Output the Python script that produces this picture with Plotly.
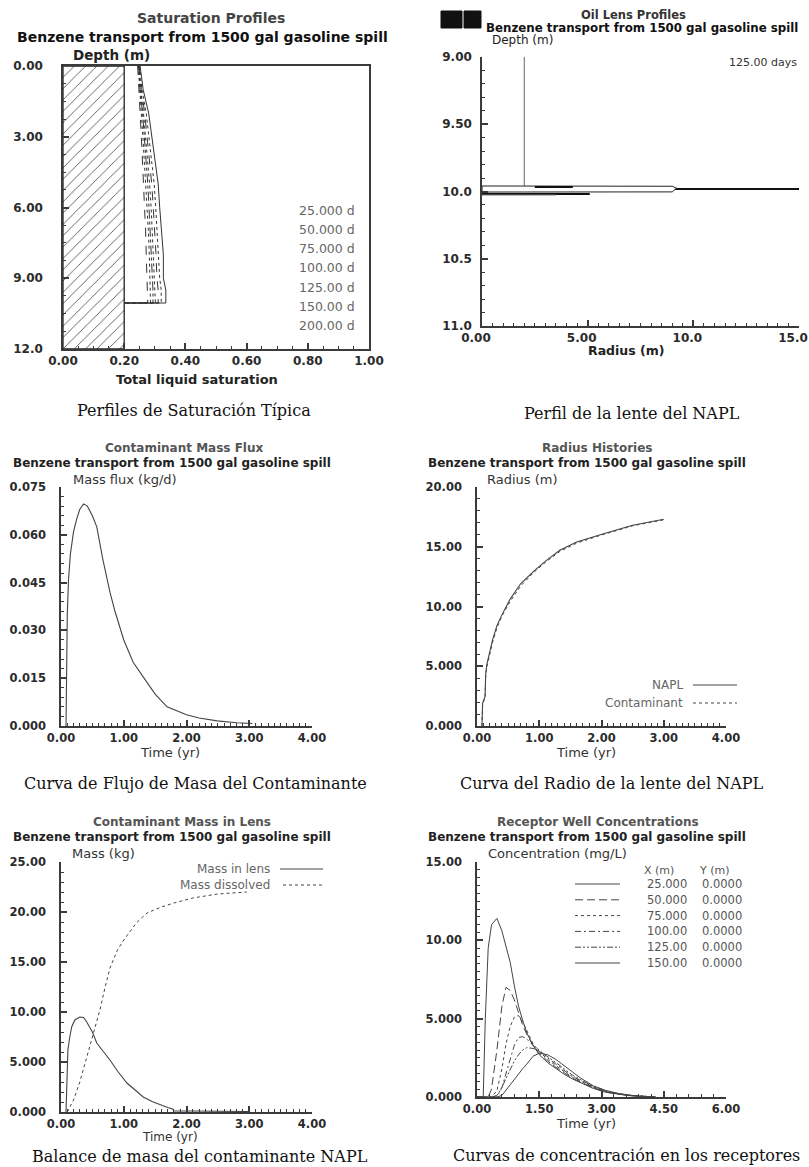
import plotly.graph_objects as go

W, H = 809, 1167


def fx(p):
    return p / W


def fy(p):
    return 1 - p / H


# ---------------- data ----------------
# Saturation profiles (depth in m, total liquid saturation)
sat_depth = [0, 1, 2, 3, 4, 5, 6, 7, 8, 9, 9.5, 10.05, 10.05]
sat_times = ["25.000 d", "50.000 d", "75.000 d", "100.00 d", "125.00 d", "150.00 d", "200.00 d"]
sat_25d = [0.252, 0.262, 0.280, 0.290, 0.300, 0.311, 0.316, 0.322, 0.328, 0.328, 0.336, 0.336, 0.20]
sat_50d = [0.250, 0.258, 0.272, 0.281, 0.290, 0.298, 0.303, 0.308, 0.313, 0.316, 0.321, 0.321, 0.20]
sat_75d = [0.249, 0.256, 0.267, 0.275, 0.283, 0.290, 0.295, 0.300, 0.304, 0.307, 0.311, 0.311, 0.20]
sat_100d = [0.248, 0.254, 0.263, 0.270, 0.277, 0.283, 0.288, 0.292, 0.296, 0.299, 0.302, 0.302, 0.20]
sat_125d = [0.247, 0.252, 0.260, 0.266, 0.272, 0.277, 0.281, 0.285, 0.289, 0.291, 0.294, 0.294, 0.20]
sat_150d = [0.246, 0.250, 0.256, 0.261, 0.266, 0.271, 0.275, 0.279, 0.282, 0.284, 0.286, 0.286, 0.20]
sat_200d = [0.244, 0.247, 0.252, 0.256, 0.260, 0.264, 0.267, 0.270, 0.272, 0.274, 0.277, 0.277, 0.20]
residual_sat = 0.20
sat_depth_max = 12.0

# Oil lens profile at 125 days (radius m, depth m)
well_radius = 2.0
well_depth = [9.0, 9.96]
water_table_depth = 9.981
lens_outline_r = [0.0, 9.0, 9.2, 9.0, 0.0, 0.0]
lens_outline_depth = [9.959, 9.961, 9.975, 10.003, 10.004, 9.959]
lens_cap_r = [2.5, 4.3]
lens_cap_depth = 9.966
lens_base_r = [0.0, 5.1]
lens_base_depth = 10.018
lens_fringe_r = [0.0, 3.5]
lens_fringe_depth = 10.026

# Contaminant mass flux (yr, kg/d)
flux_time = [0.08, 0.09, 0.10, 0.12, 0.15, 0.20, 0.25, 0.30, 0.36, 0.42, 0.50, 0.57, 0.67,
             0.78, 0.86, 1.00, 1.15, 1.31, 1.50, 1.69, 2.00, 2.20, 2.49, 2.80, 3.05]
flux_rate = [0.0, 0.018, 0.035, 0.046, 0.054, 0.061, 0.065, 0.068, 0.0697, 0.069, 0.066, 0.0625, 0.052,
             0.042, 0.036, 0.027, 0.020, 0.0154, 0.010, 0.006, 0.0035, 0.0025, 0.0016, 0.0010, 0.0008]

# Radius histories (yr, m)
radius_time = [0.08, 0.09, 0.13, 0.14, 0.16, 0.20, 0.25, 0.32, 0.40, 0.53, 0.70, 0.90, 1.10,
               1.33, 1.60, 1.98, 2.25, 2.50, 2.75, 3.00]
napl_radius = [0.0, 1.9, 2.5, 4.4, 5.2, 6.1, 7.2, 8.4, 9.3, 10.6, 11.9, 12.9, 13.8,
               14.7, 15.4, 16.0, 16.4, 16.8, 17.05, 17.3]
cont_radius = [0.0, 1.8, 2.4, 4.2, 5.0, 6.0, 7.0, 8.2, 9.2, 10.4, 11.7, 12.8, 13.7,
               14.6, 15.3, 15.95, 16.35, 16.75, 17.0, 17.25]

# Contaminant mass in lens (yr, kg)
lens_time = [0.08, 0.10, 0.11, 0.14, 0.17, 0.22, 0.30, 0.36, 0.41, 0.50, 0.57, 0.68, 0.78,
             0.90, 1.05, 1.20, 1.31, 1.45, 1.58, 1.70, 1.78, 1.80, 2.10, 2.50, 3.00]
lens_mass = [0.0, 3.0, 6.2, 7.5, 8.5, 9.2, 9.5, 9.45, 9.0, 8.0, 6.9, 6.0, 5.2,
             4.1, 2.9, 2.1, 1.5, 1.05, 0.7, 0.45, 0.3, 0.1, 0.1, 0.05, 0.05]
dissolved_time = [0.10, 0.20, 0.30, 0.40, 0.46, 0.55, 0.62, 0.70, 0.78, 0.90, 1.00, 1.20,
                  1.37, 1.60, 1.80, 2.10, 2.50, 2.96]
dissolved_mass = [0.0, 1.2, 3.0, 5.2, 6.5, 8.5, 10.2, 12.4, 14.4, 16.2, 17.2, 18.9,
                  19.9, 20.5, 20.9, 21.4, 21.8, 22.0]

# Receptor well concentrations (yr, mg/L)
conc_time = [0, 0.15, 0.20, 0.27, 0.35, 0.48, 0.60, 0.70, 0.80, 0.90, 1.00, 1.10, 1.20,
             1.35, 1.50, 1.70, 1.90, 2.10, 2.30, 2.50, 2.80, 3.10, 3.40, 3.70, 4.00, 4.30]
conc_25 = [0, 0, 5.0, 9.5, 11.0, 11.4, 10.6, 9.6, 8.6, 7.1, 5.8, 4.9, 4.1,
           3.3, 2.7, 2.2, 1.8, 1.45, 1.15, 0.9, 0.55, 0.3, 0.17, 0.08, 0.03, 0]
conc_50 = [0, 0, 0, 0, 0.5, 3.0, 5.8, 7.0, 6.8, 6.2, 5.4, 4.6, 4.0,
           3.3, 2.8, 2.3, 1.9, 1.55, 1.2, 0.95, 0.6, 0.33, 0.18, 0.09, 0.03, 0]
conc_75 = [0, 0, 0, 0, 0, 0.4, 1.8, 3.4, 4.5, 5.1, 5.2, 4.8, 4.2,
           3.4, 2.9, 2.4, 2.0, 1.6, 1.25, 1.0, 0.62, 0.35, 0.2, 0.1, 0.04, 0]
conc_100 = [0, 0, 0, 0, 0, 0, 0.6, 1.5, 2.5, 3.3, 3.8, 3.85, 3.7,
            3.3, 3.0, 2.5, 2.1, 1.7, 1.3, 1.05, 0.65, 0.37, 0.2, 0.1, 0.04, 0]
conc_125 = [0, 0, 0, 0, 0, 0.1, 0.6, 1.2, 1.8, 2.3, 2.7, 3.0, 3.15,
            3.1, 2.95, 2.6, 2.2, 1.8, 1.4, 1.1, 0.68, 0.4, 0.22, 0.1, 0.04, 0]
conc_150 = [0, 0, 0, 0, 0, 0, 0.1, 0.45, 0.8, 1.15, 1.5, 1.8, 2.1,
            2.6, 2.8, 2.7, 2.4, 2.0, 1.55, 1.2, 0.72, 0.42, 0.23, 0.11, 0.04, 0]
receptor_x = ["25.000", "50.000", "75.000", "100.00", "125.00", "150.00"]
receptor_y = ["0.0000", "0.0000", "0.0000", "0.0000", "0.0000", "0.0000"]

# Tick labels
sat_x_ticks = [0, 0.2, 0.4, 0.6, 0.8, 1.0]
sat_x_labels = ["0.00", "0.20", "0.40", "0.60", "0.80", "1.00"]
sat_y_ticks = [0, 3, 6, 9, 12]
sat_y_labels = ["0.00", "3.00", "6.00", "9.00", "12.0"]
lens_x_ticks = [0, 5, 10, 15]
lens_x_labels = ["0.00", "5.00", "10.0", "15.0"]
lens_y_ticks = [9.0, 9.5, 10.0, 10.5, 11.0]
lens_y_labels = ["9.00", "9.50", "10.0", "10.5", "11.0"]
time_ticks = [0, 1, 2, 3, 4]
time_labels = ["0.00", "1.00", "2.00", "3.00", "4.00"]
flux_ticks = [0, 0.015, 0.030, 0.045, 0.060, 0.075]
flux_labels = ["0.000", "0.015", "0.030", "0.045", "0.060", "0.075"]
radius_ticks = [0, 5, 10, 15, 20]
radius_labels = ["0.000", "5.000", "10.00", "15.00", "20.00"]
mass_ticks = [0, 5, 10, 15, 20, 25]
mass_labels = ["0.000", "5.000", "10.00", "15.00", "20.00", "25.00"]
conc_x_ticks = [0, 1.5, 3.0, 4.5, 6.0]
conc_x_labels = ["0.00", "1.50", "3.00", "4.50", "6.00"]
conc_y_ticks = [0, 5, 10, 15]
conc_y_labels = ["0.000", "5.000", "10.00", "15.00"]

SUBTITLE = "Benzene transport from 1500 gal gasoline spill"

# ---------------- styling ----------------
INK = "#2b2b2b"
LINE = "#3a3a3a"
SANS = "DejaVu Sans"
SERIF = "DejaVu Serif"

fig = go.Figure()
annotations = []
shapes = []


def label(x, y, s, size, color=INK, bold=False, family=SANS, xanchor="center"):
    annotations.append(dict(
        x=fx(x), y=fy(y), xref="paper", yref="paper",
        text=f"<b>{s}</b>" if bold else s, showarrow=False,
        xanchor=xanchor, yanchor="middle",
        font=dict(family=family, size=size, color=color),
    ))


def make_axes(n, box, xr, yr, xt, xl, yt, yl, xminor, yminor, mirror=False,
              ystand=10, tick_size=11.5, xshift=0):
    left, right, top, bottom = box
    suffix = "" if n == 1 else str(n)
    common = dict(
        showline=True, linecolor=LINE, linewidth=1.5, mirror=mirror, automargin=False,
        showgrid=False, zeroline=False, ticks="inside", ticklen=6,
        tickwidth=1.5, tickcolor=LINE,
        tickfont=dict(family=SANS, size=tick_size, color=INK, weight="bold"),
    )
    fig.layout[f"xaxis{suffix}"] = dict(
        common, domain=[fx(left), fx(right)], range=xr,
        anchor=f"y{suffix}", tickvals=xt, ticktext=xl,
        ticklabeloverflow="allow", ticklabelshift=xshift,
        minor=dict(ticks="inside", dtick=xminor, ticklen=3, tickwidth=1, tickcolor=LINE),
    )
    fig.layout[f"yaxis{suffix}"] = dict(
        common, domain=[fy(bottom), fy(top)], range=yr,
        anchor=f"x{suffix}", tickvals=yt, ticktext=yl, ticklabelstandoff=ystand,
        minor=dict(ticks="inside", dtick=yminor, ticklen=3, tickwidth=1, tickcolor=LINE),
    )
    return f"x{suffix}", f"y{suffix}"


# ---------------- panel 1: saturation profiles ----------------
xa, ya = make_axes(1, (63, 369, 66, 349), [0, 1], [12, 0], sat_x_ticks, sat_x_labels,
                   sat_y_ticks, sat_y_labels, 0.05, 0.75, mirror=True, ystand=16, tick_size=12)
fig.add_trace(go.Scatter(
    x=[0, residual_sat, residual_sat, 0, 0], y=[0, 0, sat_depth_max, sat_depth_max, 0],
    xaxis=xa, yaxis=ya, mode="lines", fill="toself", fillcolor="white",
    fillpattern=dict(shape="/", fgcolor="#444", bgcolor="white", size=8, solidity=0.1),
    line=dict(color="#222", width=1.3), hoverinfo="skip",
))
sat_profiles = [sat_25d, sat_50d, sat_75d, sat_100d, sat_125d, sat_150d, sat_200d]
sat_dashes = ["solid", "dot", "dash", "dot", "dashdot", "dot", "dash"]
for prof, dash in zip(sat_profiles, sat_dashes):
    fig.add_trace(go.Scatter(
        x=prof, y=sat_depth, xaxis=xa, yaxis=ya, mode="lines",
        line=dict(color="#333", width=1, dash=dash),
    ))
label(211, 18, "Saturation Profiles", 14, color="#444", bold=True)
label(203, 37, SUBTITLE, 14, color="#111", bold=True)
label(111, 55, "Depth (m)", 13.5, color="#222", bold=True)
label(197, 380, "Total liquid saturation", 13, color="#222", bold=True)
for i, t in enumerate(sat_times):
    label(357, 210 + i * 19.3, t, 12.5, color="#666", xanchor="right")
label(194, 410, "Perfiles de Saturación Típica", 16, color="#111", family=SERIF)

# ---------------- panel 2: oil lens profile ----------------
xa, ya = make_axes(2, (482, 799, 57, 326), [0, 15], [11, 9], lens_x_ticks, lens_x_labels,
                   lens_y_ticks, lens_y_labels, 0.5, 0.1, ystand=6, tick_size=12, xshift=-6)
fig.add_trace(go.Scatter(x=[well_radius, well_radius], y=well_depth, xaxis=xa, yaxis=ya,
                         mode="lines", line=dict(color="#666", width=1)))
fig.add_trace(go.Scatter(x=[0, 15], y=[water_table_depth] * 2, xaxis=xa, yaxis=ya,
                         mode="lines", line=dict(color="#111", width=2)))
fig.add_trace(go.Scatter(x=lens_outline_r, y=lens_outline_depth, xaxis=xa, yaxis=ya,
                         mode="lines", fill="toself", fillcolor="white",
                         line=dict(color="#222", width=1)))
fig.add_trace(go.Scatter(x=lens_cap_r, y=[lens_cap_depth] * 2, xaxis=xa, yaxis=ya,
                         mode="lines", line=dict(color="#111", width=2)))
fig.add_trace(go.Scatter(x=lens_base_r, y=[lens_base_depth] * 2, xaxis=xa, yaxis=ya,
                         mode="lines", line=dict(color="#111", width=2)))
fig.add_trace(go.Scatter(x=lens_fringe_r, y=[lens_fringe_depth] * 2, xaxis=xa, yaxis=ya,
                         mode="lines", line=dict(color="#777", width=1)))
shapes.append(dict(type="rect", xref="paper", yref="paper", x0=fx(441), x1=fx(462),
                   y0=fy(28), y1=fy(11), fillcolor="#111", line=dict(color="#111", width=1)))
shapes.append(dict(type="rect", xref="paper", yref="paper", x0=fx(464), x1=fx(481),
                   y0=fy(28), y1=fy(11), fillcolor="#111", line=dict(color="#111", width=1)))
label(633, 15, "Oil Lens Profiles", 11.5, color="#333", bold=True)
label(642, 28, SUBTITLE, 11.8, color="#111", bold=True)
label(522, 40, "Depth (m)", 12, color="#222")
label(799, 62, "125.00 days", 11, color="#333", xanchor="right")
label(626, 351, "Radius (m)", 12.5, color="#222", bold=True)
label(632, 413, "Perfil de la lente del NAPL", 16, color="#111", family=SERIF)

# ---------------- panel 3: contaminant mass flux ----------------
xa, ya = make_axes(3, (61, 312, 487, 726), [0, 4], [0, 0.075], time_ticks, time_labels,
                   flux_ticks, flux_labels, 0.1, 0.003, ystand=11)
fig.add_trace(go.Scatter(x=flux_time, y=flux_rate, xaxis=xa, yaxis=ya, mode="lines",
                         line=dict(color="#444", width=1.1)))
label(184, 448, "Contaminant Mass Flux", 12, color="#555", bold=True)
label(172, 463, SUBTITLE, 12, color="#222", bold=True)
label(125, 479, "Mass flux (kg/d)", 13, color="#333")
label(170, 752, "Time (yr)", 13, color="#333")
label(195, 783, "Curva de Flujo de Masa del Contaminante", 16, color="#111", family=SERIF)

# ---------------- panel 4: radius histories ----------------
xa, ya = make_axes(4, (477, 726, 487, 726), [0, 4], [0, 20], time_ticks, time_labels,
                   radius_ticks, radius_labels, 0.1, 1, ystand=11)
fig.add_trace(go.Scatter(x=radius_time, y=napl_radius, xaxis=xa, yaxis=ya, mode="lines",
                         line=dict(color="#444", width=1.1)))
fig.add_trace(go.Scatter(x=radius_time, y=cont_radius, xaxis=xa, yaxis=ya, mode="lines",
                         line=dict(color="#444", width=1, dash="dot")))
label(597, 448, "Radius Histories", 12, color="#555", bold=True)
label(587, 463, SUBTITLE, 12, color="#222", bold=True)
label(522, 479, "Radius (m)", 13, color="#333")
label(586, 752, "Time (yr)", 13, color="#333")
label(685, 685, "NAPL", 12, color="#666", xanchor="right")
label(685, 703, "Contaminant", 12, color="#666", xanchor="right")
shapes.append(dict(type="line", xref="paper", yref="paper", x0=fx(693), x1=fx(737),
                   y0=fy(685), y1=fy(685), line=dict(color="#444", width=1.1)))
shapes.append(dict(type="line", xref="paper", yref="paper", x0=fx(693), x1=fx(737),
                   y0=fy(703), y1=fy(703), line=dict(color="#444", width=1, dash="dot")))
label(611, 783, "Curva del Radio de la lente del NAPL", 16, color="#111", family=SERIF)

# ---------------- panel 5: contaminant mass in lens ----------------
xa, ya = make_axes(5, (61, 312, 862, 1112), [0, 4], [0, 25], time_ticks, time_labels,
                   mass_ticks, mass_labels, 0.1, 1, ystand=11)
fig.add_trace(go.Scatter(x=lens_time, y=lens_mass, xaxis=xa, yaxis=ya, mode="lines",
                         line=dict(color="#444", width=1.1)))
fig.add_trace(go.Scatter(x=dissolved_time, y=dissolved_mass, xaxis=xa, yaxis=ya, mode="lines",
                         line=dict(color="#444", width=1, dash="dot")))
label(182, 822, "Contaminant Mass in Lens", 12, color="#555", bold=True)
label(172, 837, SUBTITLE, 12, color="#222", bold=True)
label(103, 853, "Mass (kg)", 13, color="#333")
label(170, 1137, "Time (yr)", 12, color="#333")
label(272, 869, "Mass in lens", 12, color="#666", xanchor="right")
label(272, 885, "Mass dissolved", 12, color="#666", xanchor="right")
shapes.append(dict(type="line", xref="paper", yref="paper", x0=fx(280), x1=fx(323),
                   y0=fy(869), y1=fy(869), line=dict(color="#444", width=1.1)))
shapes.append(dict(type="line", xref="paper", yref="paper", x0=fx(283), x1=fx(323),
                   y0=fy(885), y1=fy(885), line=dict(color="#444", width=1, dash="dot")))
label(200, 1156, "Balance de masa del contaminante NAPL", 16, color="#111", family=SERIF)

# ---------------- panel 6: receptor well concentrations ----------------
xa, ya = make_axes(6, (477, 726, 862, 1097), [0, 6], [0, 15], conc_x_ticks, conc_x_labels,
                   conc_y_ticks, conc_y_labels, 0.3, 0.5, ystand=11)
conc_series = [conc_25, conc_50, conc_75, conc_100, conc_125, conc_150]
conc_dashes = ["solid", "8px,4px", "dot", "6px,3px,2px,3px", "6px,2px,2px,2px,2px,2px", "solid"]
for series, dash in zip(conc_series, conc_dashes):
    fig.add_trace(go.Scatter(x=conc_time, y=series, xaxis=xa, yaxis=ya, mode="lines",
                             line=dict(color="#444", width=1, dash=dash)))
label(598, 822, "Receptor Well Concentrations", 12, color="#555", bold=True)
label(587, 837, SUBTITLE, 12, color="#222", bold=True)
label(557, 853, "Concentration (mg/L)", 13, color="#333")
label(586, 1123, "Time (yr)", 13, color="#333")
label(659, 870, "X (m)", 11, color="#555")
label(714, 870, "Y (m)", 11, color="#555")
for i, (rx, ry, dash) in enumerate(zip(receptor_x, receptor_y, conc_dashes)):
    yrow = 884 + i * 15.8
    shapes.append(dict(type="line", xref="paper", yref="paper", x0=fx(575), x1=fx(620),
                       y0=fy(yrow), y1=fy(yrow), line=dict(color="#444", width=1, dash=dash)))
    label(645, yrow, rx, 11.5, color="#555", xanchor="left")
    label(700, yrow, ry, 11.5, color="#555", xanchor="left")
label(626, 1155, "Curvas de concentración en los receptores", 16, color="#111", family=SERIF)

fig.update_layout(
    template="none",
    width=W, height=H, margin=dict(l=0, r=0, t=0, b=0, autoexpand=False),
    paper_bgcolor="white", plot_bgcolor="white", showlegend=False,
    annotations=annotations, shapes=shapes,
)

fig.write_html("out.html")
